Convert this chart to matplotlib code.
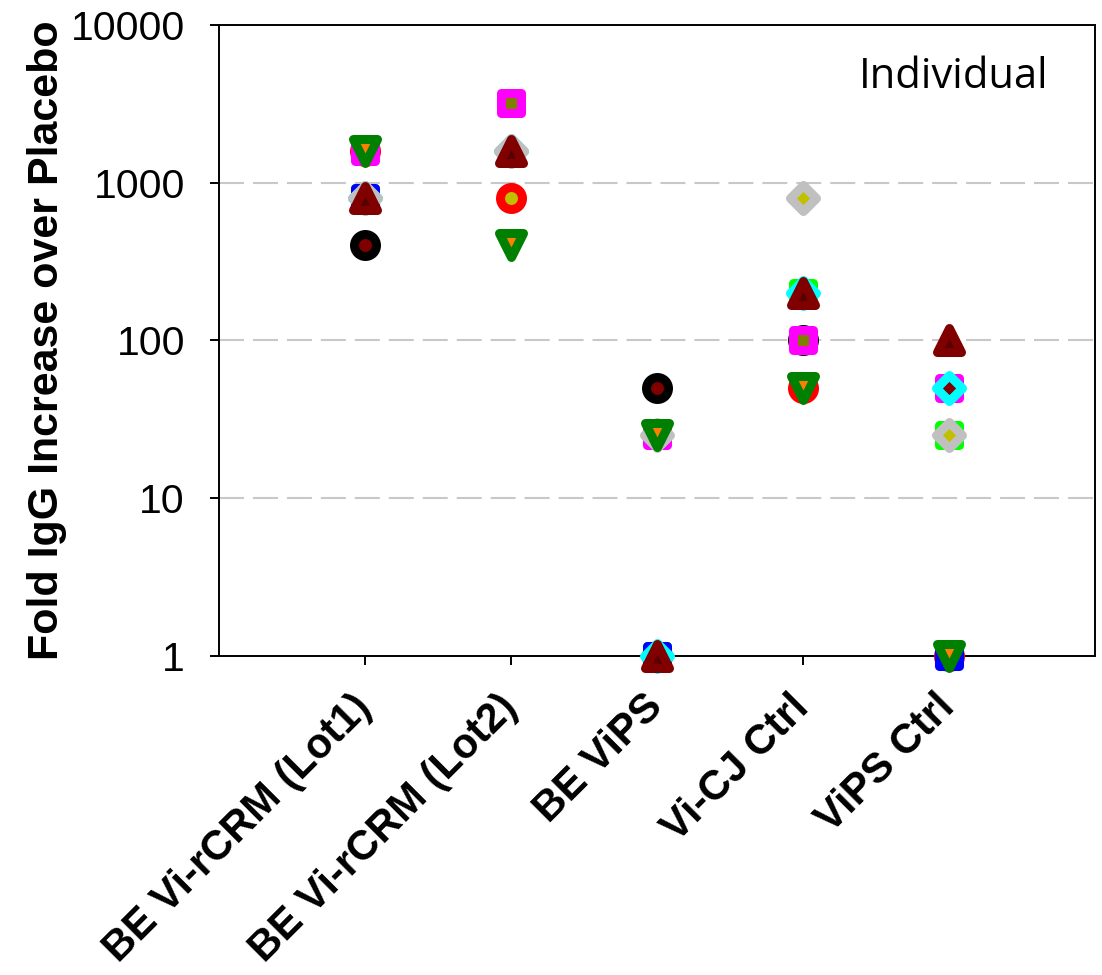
import numpy as np
import matplotlib
matplotlib.use("Agg")
import matplotlib.pyplot as plt
from matplotlib.markers import MarkerStyle

plt.rcParams['font.family'] = ['Liberation Sans', 'DejaVu Sans']

groups = ['BE Vi-rCRM (Lot1)', 'BE Vi-rCRM (Lot2)', 'BE ViPS', 'Vi-CJ Ctrl', 'ViPS Ctrl']
nan = np.nan

# fold increase per animal, one value per group (nan = not shown)
red_circle = [1600, 800, 1, 50, 1]
black_circle = [400, nan, 50, 100, nan]
yellow_hex = [1600, nan, 1, nan, 50]
lime_square = [800, nan, 1, 200, 25]
blue_square = [800, nan, 1, nan, 1]
magenta_square = [1600, 3200, 25, 100, 50]
cyan_diamond = [800, 1600, 1, 200, 50]
gray_diamond = [800, 1600, 25, 800, 25]
maroon_triangle = [800, 1600, 1, 200, 100]
green_tri_down = [1600, 400, 25, 50, 1]

# (values, marker, size pt, edge colour, face colour), drawn bottom to top
animals = [
    (red_circle, 'o', 15.8, '#FF0000', '#C0C000'),
    (black_circle, 'o', 15.8, '#000000', '#800000'),
    (yellow_hex, 'h', 16.5, '#FFFF00', '#0000FF'),
    (lime_square, 's', 14.8, '#00FF00', '#008080'),
    (blue_square, 's', 14.8, '#0000FF', '#C0C000'),
    (magenta_square, 's', 14.8, '#FF00FF', '#808000'),
    (cyan_diamond, 'D', 13.4, '#00FFFF', '#800000'),
    (gray_diamond, 'D', 13.4, '#C0C0C0', '#C0C000'),
    (maroon_triangle, '^', 17.5, '#800000', '#5A0000'),
    (green_tri_down, 'v', 17.5, '#008000', '#FF8000'),
]

fig = plt.figure(figsize=(11.02, 9.75), dpi=100)
ax = fig.add_axes([0.1987, 0.3272, 0.7949, 0.6472])

x = np.arange(1, len(groups) + 1)
for vals, mk, ms, ec, fc in animals:
    ax.plot(x, vals, linestyle='none',
            marker=MarkerStyle(mk, joinstyle='round'),
            markersize=ms, markeredgewidth=6.5,
            markeredgecolor=ec, markerfacecolor=fc,
            clip_on=False, zorder=3)

ax.set_yscale('log')
ax.set_ylim(1, 10000)
ax.set_xlim(0, 6)
ax.set_yticks([1, 10, 100, 1000, 10000])
ax.set_yticklabels(['1', '10', '100', '1000', '10000'])
ax.yaxis.set_minor_locator(matplotlib.ticker.NullLocator())
ax.set_xticks(x)
ax.set_xticklabels(groups, rotation=45, ha='right', va='center',
                   rotation_mode='anchor', fontweight='bold', fontsize=30)

for gy in [10, 100, 1000]:
    ax.axhline(gy, color='#C8C8C8', linewidth=1.5, dashes=(12, 4.3), zorder=1)

for sp in ax.spines.values():
    sp.set_linewidth(1.4)
    sp.set_zorder(2)

ax.tick_params(axis='y', direction='out', length=6.5, width=1.4,
               labelsize=29.5, pad=18)
ax.tick_params(axis='x', direction='out', length=6.5, width=1.4, pad=26)

ax.set_ylabel('Fold IgG Increase over Placebo', fontsize=31, fontweight='bold')
ax.yaxis.set_label_coords(-0.173, 0.5)

ax.text(0.731, 0.9176, 'Individual', transform=ax.transAxes,
        fontsize=30, family=['Open Sans', 'DejaVu Sans'],
        ha='left', va='center')

fig.savefig('out.png', dpi=100)
